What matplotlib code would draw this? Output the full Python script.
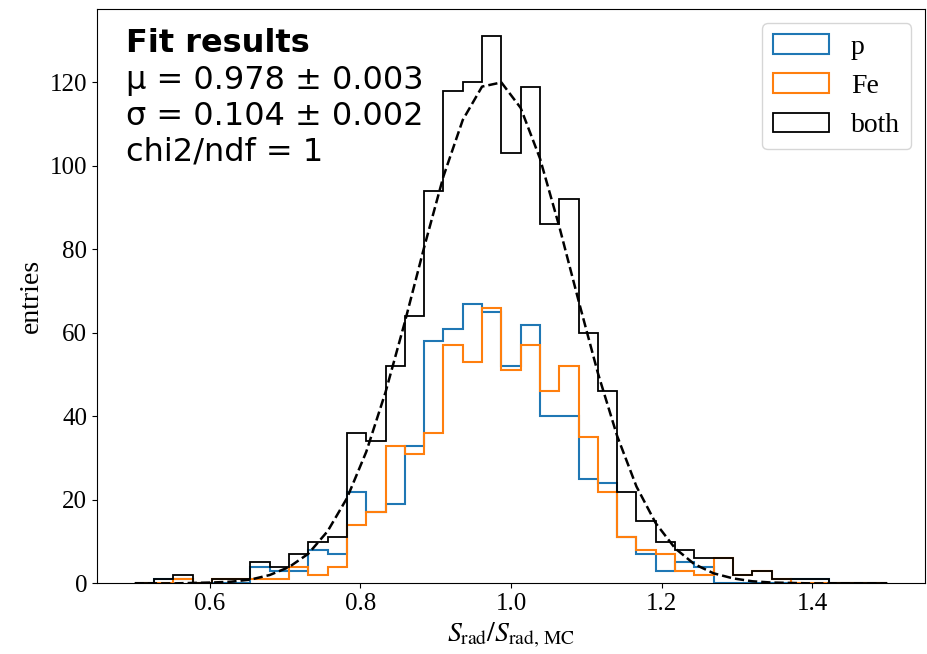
import numpy as np
import matplotlib
matplotlib.use('Agg')
from matplotlib import pyplot as plt

# histogram binning (39 bins between 0.5 and 1.5)
bin_lo, bin_hi, n_bins = 0.5, 1.5, 39

# counts per bin
p_counts = [0, 1, 1, 0, 0, 0, 4, 3, 3, 8, 7, 22, 17, 19, 33, 58, 61, 67, 65, 52,
            62, 40, 40, 25, 24, 11, 7, 3, 5, 4, 0, 0, 0, 0, 1, 1, 0, 0, 0]
fe_counts = [0, 0, 1, 0, 1, 1, 1, 1, 4, 2, 4, 14, 17, 33, 31, 36, 57, 53, 66, 51,
             57, 46, 52, 35, 22, 11, 8, 7, 3, 2, 6, 2, 3, 1, 0, 0, 0, 0, 0]

# dashed fit curve, value at every bin edge
fit_y = [0.0, 0.0, 0.0, 0.1, 0.2, 0.4, 0.9, 2.0, 3.9, 7.1, 12.5, 20.4, 31.5, 45.8,
         62.6, 80.5, 97.5, 111.0, 119.0, 120.0, 113.9, 101.8, 85.5, 67.7, 50.4,
         35.3, 23.2, 14.4, 8.4, 4.6, 2.4, 1.2, 0.5, 0.2, 0.1, 0.0, 0.0, 0.0, 0.0, 0.0]

fit_lines = ['μ = 0.978 ± 0.003', 'σ = 0.104 ± 0.002', 'chi2/ndf = 1']
labels = ['p', 'Fe', 'both']

plt.rcParams['font.family'] = 'Liberation Serif'
plt.rcParams['mathtext.fontset'] = 'stix'

edges = np.linspace(bin_lo, bin_hi, n_bins + 1)
centers = 0.5 * (edges[:-1] + edges[1:])
p_counts = np.array(p_counts)
fe_counts = np.array(fe_counts)
both = p_counts + fe_counts

fig = plt.figure(figsize=(9.28, 6.54), dpi=100)
ax = fig.add_subplot(111)
fig.subplots_adjust(left=0.1045, right=0.9968, top=0.986, bottom=0.108)

ax.hist(centers, bins=edges, weights=p_counts, histtype='step',
        color='#1f77b4', lw=1.5, label=labels[0])
ax.hist(centers, bins=edges, weights=fe_counts, histtype='step',
        color='#ff7f0e', lw=1.5, label=labels[1])
ax.hist(centers, bins=edges, weights=both, histtype='step',
        color='k', lw=1.3, label=labels[2])
ax.plot(edges, fit_y, 'k--', lw=1.8)

ax.set_xlabel(r'$S_\mathrm{rad}/S_\mathrm{rad,\,MC}$', fontsize=20)
ax.set_ylabel('entries', fontsize=20)
ax.tick_params(labelsize=18)
ax.legend(loc='upper right', fontsize=20)

#fit result box
ax.text(0.035, 0.968, 'Fit results', transform=ax.transAxes, va='top',
        family='DejaVu Sans', weight='bold', fontsize=23)
ax.text(0.035, 0.903, '\n'.join(fit_lines), transform=ax.transAxes, va='top',
        family='DejaVu Sans', fontsize=23, linespacing=1.2)

fig.savefig('out.png', dpi=100)
